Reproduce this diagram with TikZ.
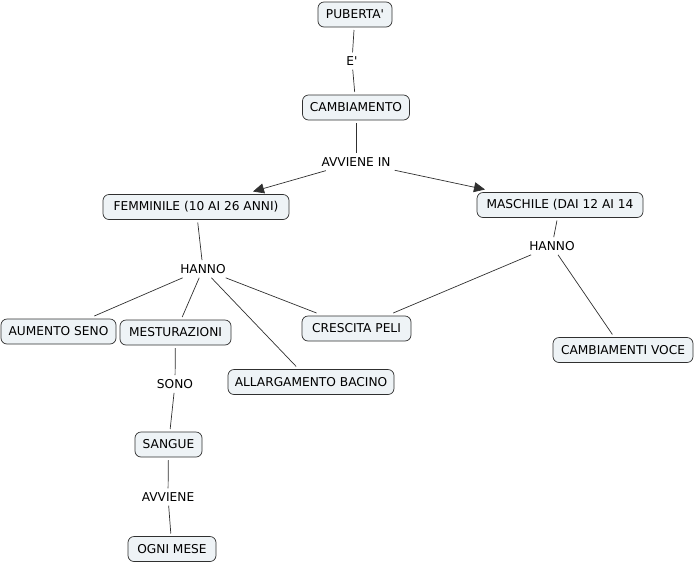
\documentclass[tikz,border=0pt]{standalone}
\usepackage{fontspec}
\newfontfamily\vfont{DejaVu Sans}
\usetikzlibrary{arrows.meta}
\definecolor{cfill}{HTML}{EEF3F6}
\definecolor{cline}{HTML}{303030}
\begin{document}
\begin{tikzpicture}[x=1pt,y=-1pt,
  concept/.style={draw=cline,fill=cfill,rounded corners=6pt,minimum height=25pt,inner xsep=4pt,outer sep=3pt,font=\vfont\fontsize{12.2}{14}\selectfont,line width=0.7pt},
  link/.style={inner sep=4pt,font=\vfont\fontsize{12.2}{14}\selectfont},
  conn/.style={draw=cline,line width=0.7pt},
  arr/.style={conn,-{Triangle[length=11pt,width=10pt]}}]
\useasboundingbox (0,0) rectangle (696,563);
\node[concept,minimum width=74pt] (pub) at (355,14.5) {PUBERTA'};
\node[link] (e) at (352,61) {E'};
\node[concept,minimum width=107pt] (cam) at (356,107.5) {CAMBIAMENTO};
\node[link] (avin) at (356,162) {AVVIENE IN};
\node[concept,minimum width=186pt] (fem) at (196,207) {FEMMINILE (10 AI 26 ANNI)};
\node[concept,minimum width=166pt] (mas) at (560,205) {MASCHILE (DAI 12 AI 14};
\node[link] (hl) at (203,269) {HANNO};
\node[link] (hr) at (552,246) {HANNO};
\node[concept,minimum width=115pt] (seno) at (58.5,331.5) {AUMENTO SENO};
\node[concept,minimum width=111pt] (mest) at (175.5,332.5) {MESTURAZIONI};
\node[concept,minimum width=109pt] (peli) at (356.5,328.5) {CRESCITA PELI};
\node[concept,minimum width=166pt] (bac) at (311,382) {ALLARGAMENTO BACINO};
\node[concept,minimum width=140pt] (voce) at (623,350) {CAMBIAMENTI VOCE};
\node[link] (sono) at (175,384) {SONO};
\node[concept,minimum width=67pt] (sang) at (168.5,444.5) {SANGUE};
\node[link] (avv) at (168,497) {AVVIENE};
\node[concept,minimum width=88pt] (ogni) at (172,549) {OGNI MESE};
\draw[conn] (pub) -- (e);
\draw[conn] (e) -- (cam);
\draw[conn] (cam) -- (avin);
\draw[arr] (avin) -- (fem.north -| 253,0);
\draw[arr] (avin) -- (mas.north -| 485,0);
\draw[conn] (fem) -- (hl);
\draw[conn] (hl) -- (seno);
\draw[conn] (hl) -- (mest);
\draw[conn] (hl) -- (bac);
\draw[conn] (hl) -- (peli);
\draw[conn] (mas) -- (hr);
\draw[conn] (hr) -- (peli);
\draw[conn] (hr) -- (voce);
\draw[conn] (mest) -- (sono);
\draw[conn] (sono) -- (sang);
\draw[conn] (sang) -- (avv);
\draw[conn] (avv) -- (ogni);
\end{tikzpicture}
\end{document}
